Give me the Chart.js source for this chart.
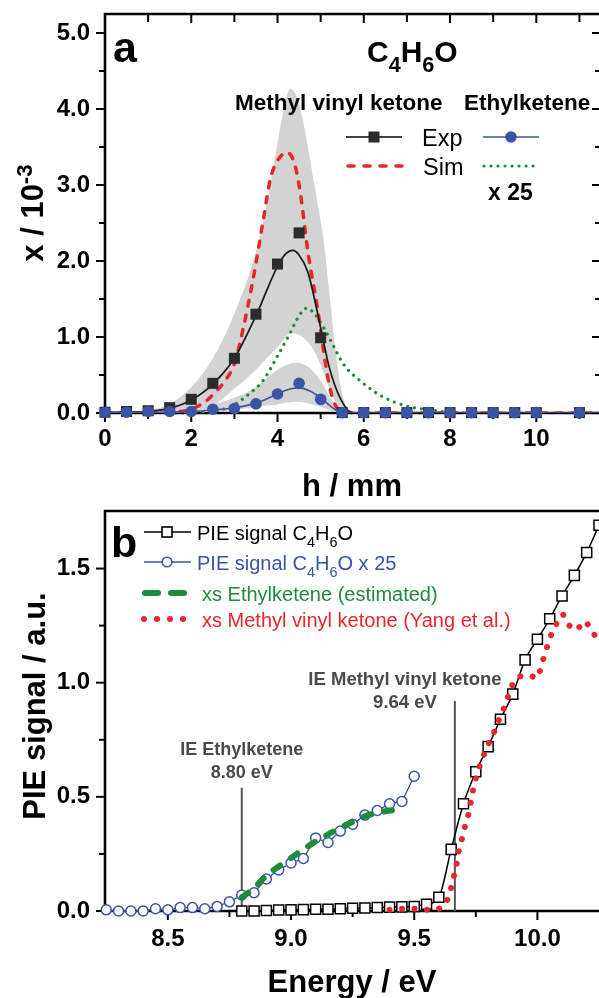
<!DOCTYPE html>
<html><head><meta charset="utf-8">
<script src="https://cdn.jsdelivr.net/npm/chart.js@4.4.1/dist/chart.umd.min.js"></script>
<style>
html,body{margin:0;padding:0;background:#fff;overflow:hidden;width:599px;height:998px;}
#ca{position:absolute;left:0;top:0;}
#cb{position:absolute;left:0;top:497px;}
</style></head><body>
<canvas id="ca" width="602" height="500"></canvas>
<canvas id="cb" width="599" height="501"></canvas>
<script>
const FAM = "'Liberation Sans', Arial, Helvetica, sans-serif";

// ---------- Panel a data (h / mm, x / 10^-3) ----------
const hTicks = [0, 2, 4, 6, 8, 10];
const hMinor = [1, 3, 5, 7, 9, 11];
const xTicksA = [0, 1, 2, 3, 4, 5];
const xMinorA = [0.5, 1.5, 2.5, 3.5, 4.5];

const hExp   = [0, 0.5, 1, 1.5, 2, 2.5, 3, 3.5, 4, 4.5, 5, 5.5, 6, 6.5, 7, 7.5, 8, 8.5, 9, 9.5, 10, 11];
const mvkExp = [0.01, 0.02, 0.03, 0.07, 0.18, 0.39, 0.72, 1.30, 1.96, 2.37, 0.99, 0.005, 0.005, 0.005, 0.005, 0.005, 0.005, 0.005, 0.005, 0.005, 0.005, 0.005];
const ekExp  = [0.01, 0.01, 0.02, 0.02, 0.02, 0.05, 0.06, 0.12, 0.25, 0.39, 0.18, 0.005, 0.005, 0.005, 0.005, 0.005, 0.005, 0.005, 0.005, 0.005, 0.005, 0.005];

const hFitMvk = [0, 0.5, 1, 1.5, 2, 2.5, 3, 3.5, 4, 4.2, 4.35, 4.5, 4.7, 4.85, 5.0, 5.2, 5.45, 5.75, 6, 11.5];
const mvkFit  = [0.005, 0.01, 0.02, 0.06, 0.17, 0.38, 0.72, 1.28, 1.93, 2.10, 2.14, 2.08, 1.86, 1.52, 1.12, 0.60, 0.20, 0.0, 0, 0];
const hFitEk  = [0, 1, 2, 2.5, 3, 3.5, 4, 4.25, 4.5, 4.75, 5.0, 5.25, 5.5, 6, 11.5];
const ekFit   = [0.01, 0.01, 0.02, 0.04, 0.07, 0.13, 0.25, 0.31, 0.33, 0.29, 0.20, 0.08, 0.0, 0, 0];

const hSimMvk = [0, 1, 1.5, 2, 2.37, 2.5, 2.75, 3.0, 3.2, 3.43, 3.67, 3.83, 4.0, 4.22, 4.4, 4.52, 4.71, 4.92, 5.15, 5.29, 5.5, 6, 11.5];
const mvkSim  = [0, 0.0, 0.01, 0.05, 0.17, 0.24, 0.40, 0.65, 1.10, 1.75, 2.54, 3.07, 3.32, 3.43, 3.27, 2.93, 2.10, 1.40, 0.52, 0.17, 0.02, 0, 0];
const hSimEk  = [0, 2, 2.6, 2.97, 3.36, 3.67, 3.99, 4.29, 4.5, 4.68, 4.85, 5.06, 5.3, 5.52, 5.99, 6.45, 7.0, 7.54, 8.0, 9.0, 11.5];
const ekSim25 = [0, 0.0, 0.03, 0.10, 0.26, 0.43, 0.74, 1.05, 1.28, 1.38, 1.31, 1.13, 0.88, 0.65, 0.39, 0.21, 0.09, 0.04, 0.01, 0, 0];

const hBand     = [0, 1, 1.5, 2, 2.5, 3, 3.5, 3.75, 4, 4.15, 4.3, 4.45, 4.6, 4.75, 4.9, 5.05, 5.2, 5.35, 5.5, 5.65, 5.8, 6.5, 11.5];
const mvkUpper  = [0.01, 0.04, 0.12, 0.34, 0.72, 1.31, 2.12, 2.75, 3.55, 4.02, 4.27, 4.15, 3.82, 3.35, 2.85, 2.35, 1.60, 0.80, 0.25, 0.04, 0, 0, 0];
const mvkLower  = [0.0, 0.01, 0.02, 0.05, 0.10, 0.32, 0.57, 0.72, 0.87, 0.97, 1.05, 1.04, 0.99, 0.90, 0.76, 0.56, 0.33, 0.14, 0.04, 0.0, 0, 0, 0];
const ekUpper   = [0.0, 0.01, 0.02, 0.04, 0.11, 0.20, 0.34, 0.46, 0.57, 0.62, 0.65, 0.66, 0.64, 0.59, 0.50, 0.38, 0.22, 0.10, 0.03, 0.0, 0, 0, 0];
const ekLower   = [0.0, 0.0, 0.0, 0.01, 0.02, 0.04, 0.08, 0.10, 0.11, 0.13, 0.14, 0.15, 0.14, 0.12, 0.10, 0.07, 0.04, 0.02, 0.0, 0, 0, 0, 0];

// ---------- Panel b data (Energy / eV, PIE signal) ----------
const eTicks = [8.5, 9.0, 9.5, 10.0];
const eMinor = [8.75, 9.25, 9.75];
const sTicks = [0, 0.5, 1.0, 1.5];
const sMinor = [0.25, 0.75, 1.25];

const eSq   = [8.80, 8.85, 8.90, 8.95, 9.00, 9.05, 9.10, 9.15, 9.20, 9.25, 9.30, 9.35, 9.40, 9.45, 9.50, 9.55, 9.60, 9.65, 9.70, 9.75, 9.80, 9.85, 9.90, 9.95, 10.00, 10.05, 10.10, 10.15, 10.20, 10.25];
const pieSq = [0.0, 0.0, 0.002, 0.004, 0.005, 0.006, 0.008, 0.008, 0.010, 0.012, 0.013, 0.015, 0.017, 0.018, 0.020, 0.030, 0.060, 0.27, 0.47, 0.61, 0.72, 0.84, 0.95, 1.10, 1.19, 1.28, 1.38, 1.47, 1.57, 1.69];

const eCirc = [8.25, 8.30, 8.35, 8.40, 8.45, 8.50, 8.55, 8.60, 8.65, 8.70, 8.75, 8.80, 8.85, 8.90, 8.95, 9.00, 9.05, 9.10, 9.15, 9.20, 9.25, 9.30, 9.35, 9.40, 9.45, 9.50];
const pie25 = [0.005, 0.0, 0.0, 0.0, 0.01, 0.005, 0.015, 0.015, 0.01, 0.02, 0.04, 0.07, 0.08, 0.14, 0.18, 0.21, 0.23, 0.32, 0.30, 0.35, 0.38, 0.42, 0.44, 0.47, 0.48, 0.59];

const eGreen = [8.80, 8.85, 8.90, 8.95, 9.00, 9.05, 9.10, 9.15, 9.20, 9.25, 9.30, 9.35, 9.40, 9.45];
const xsEk   = [0.06, 0.10, 0.155, 0.195, 0.232, 0.27, 0.305, 0.335, 0.365, 0.39, 0.415, 0.43, 0.44, 0.445];

const eRed  = [9.40, 9.44, 9.50, 9.55, 9.59, 9.62, 9.64, 9.654, 9.665, 9.675, 9.682, 9.695, 9.708, 9.722, 9.732, 9.74, 9.753, 9.767, 9.785, 9.805, 9.827, 9.845, 9.865, 9.881, 9.898, 9.915, 9.935, 9.97, 10.0, 10.016, 10.028, 10.046, 10.066, 10.085, 10.104, 10.13, 10.158, 10.194, 10.222, 10.25];
const xsMvk = [0.005, 0.01, 0.01, 0.005, 0.005, 0.02, 0.06, 0.12, 0.17, 0.22, 0.27, 0.32, 0.38, 0.43, 0.49, 0.54, 0.59, 0.64, 0.69, 0.74, 0.79, 0.84, 0.89, 0.94, 0.99, 1.02, 1.03, 1.03, 1.02, 1.07, 1.12, 1.18, 1.24, 1.27, 1.30, 1.25, 1.23, 1.27, 1.23, 1.17];

const ieE   = [8.80, 9.665];
const ieTop = [0.54, 0.92];
const ieName = ['IE Ethylketene', 'IE Methyl vinyl ketone'];
const ieVal  = ['8.80 eV', '9.64 eV'];

// ---------- colours ----------
const BLUE = '#3b54a6', RED = '#e8262d', GREEN = '#1e8c3c', GREY = '#d3d3d3', DARK = '#2b2b2b', IEC = '#4a4a4a';

const pts = (xs, ys) => xs.map((x, i) => ({x: x, y: ys[i]}));

function richText(ctx, x, y, parts, size, weight, color, align) {
  ctx.fillStyle = color; ctx.textBaseline = 'alphabetic'; ctx.textAlign = 'left';
  const f = k => weight + ' ' + (k ? (size * 0.72).toFixed(1) : size) + 'px ' + FAM;
  let w = 0;
  parts.forEach(([t, k]) => { ctx.font = f(k); w += ctx.measureText(t).width; });
  let cx = align === 'center' ? x - w / 2 : x;
  parts.forEach(([t, k]) => {
    ctx.font = f(k);
    const dy = k === 1 ? size * 0.33 : (k === 2 ? -size * 0.36 : 0);
    ctx.fillText(t, cx, y + dy);
    cx += ctx.measureText(t).width;
  });
}

function frameTicks(o) {
  return {
    id: 'frameTicks',
    beforeDatasetsDraw(chart) {
      const {ctx, chartArea: a, scales: {x, y}} = chart;
      ctx.save();
      ctx.strokeStyle = '#000'; ctx.lineWidth = 2.6;
      ctx.beginPath();
      ctx.moveTo(a.left, a.bottom); ctx.lineTo(a.left, a.top); ctx.lineTo(a.right, a.top);
      if (o.right) ctx.lineTo(a.right, a.bottom);
      ctx.moveTo(a.left, a.bottom); ctx.lineTo(a.right, a.bottom);
      ctx.stroke();
      ctx.lineWidth = 2;
      const tk = (x1, y1, x2, y2) => { ctx.beginPath(); ctx.moveTo(x1, y1); ctx.lineTo(x2, y2); ctx.stroke(); };
      o.xMaj.forEach(v => { const p = x.getPixelForValue(v); tk(p, a.bottom, p, a.bottom + 9); if (o.top) tk(p, a.top, p, a.top + 9); });
      o.xMin.forEach(v => { const p = x.getPixelForValue(v); tk(p, a.bottom, p, a.bottom + 6); if (o.top) tk(p, a.top, p, a.top + 8); });
      o.yMaj.forEach(v => { const p = y.getPixelForValue(v); tk(a.left - 9, p, a.left, p); if (o.right) tk(a.right - 9, p, a.right, p); });
      o.yMin.forEach(v => { const p = y.getPixelForValue(v); tk(a.left - 6, p, a.left, p); if (o.right) tk(a.right - 6, p, a.right, p); });
      ctx.restore();
    }
  };
}

function lineDs(xs, ys, color, width, dash, order, extra) {
  return Object.assign({
    type: 'line', data: pts(xs, ys), borderColor: color, borderWidth: width,
    borderDash: dash || [], borderCapStyle: 'round', pointRadius: 0,
    cubicInterpolationMode: 'monotone', fill: false, order: order
  }, extra || {});
}

function tickCfg(arr, fmt, pad) {
  return {
    afterBuildTicks: s => { s.ticks = arr.map(v => ({value: v})); },
    grid: {display: false, drawTicks: false}, border: {display: false},
    ticks: {padding: pad, color: '#000', font: {family: FAM, size: 24, weight: 'bold'},
            autoSkip: false, maxRotation: 0, callback: fmt}
  };
}
const fitX = s => { s.height = 87; s.paddingLeft = 0; s.paddingRight = 0; s.paddingTop = 0; s.paddingBottom = 0; };
const fitY = s => { s.width = 105; s.paddingLeft = 0; s.paddingRight = 0; s.paddingTop = 0; s.paddingBottom = 0; };

// ================= Chart a =================
const textA = {
  id: 'textA',
  afterDraw(chart) {
    const ctx = chart.ctx;
    ctx.save();
    richText(ctx, 113, 62, [['a', 0]], 43, 'bold', '#000');
    richText(ctx, 367, 62, [['C', 0], ['4', 1], ['H', 0], ['6', 1], ['O', 0]], 30, 'bold', '#000');
    richText(ctx, 235, 110, [['Methyl vinyl ketone', 0]], 22.5, 'bold', '#000');
    richText(ctx, 464, 110, [['Ethylketene', 0]], 22.5, 'bold', '#000');
    // legend: Exp
    ctx.strokeStyle = '#000'; ctx.lineWidth = 1.6; ctx.setLineDash([]);
    ctx.beginPath(); ctx.moveTo(346, 137); ctx.lineTo(402, 137); ctx.stroke();
    ctx.fillStyle = DARK; ctx.fillRect(368.5, 131.5, 11, 11);
    ctx.strokeStyle = BLUE; ctx.lineWidth = 1.6;
    ctx.beginPath(); ctx.moveTo(483, 137); ctx.lineTo(539, 137); ctx.stroke();
    ctx.fillStyle = BLUE; ctx.beginPath(); ctx.arc(511, 137, 5.8, 0, Math.PI * 2); ctx.fill();
    // legend: Sim
    ctx.strokeStyle = RED; ctx.lineWidth = 3.5; ctx.lineCap = 'round'; ctx.setLineDash([6, 10]);
    ctx.beginPath(); ctx.moveTo(348, 166); ctx.lineTo(402, 166); ctx.stroke();
    ctx.strokeStyle = GREEN; ctx.lineWidth = 3.2; ctx.setLineDash([0.01, 7]);
    ctx.beginPath(); ctx.moveTo(484, 166); ctx.lineTo(540, 166); ctx.stroke();
    ctx.setLineDash([]);
    richText(ctx, 422, 146, [['Exp', 0]], 23.5, 'normal', '#000');
    richText(ctx, 423, 175, [['Sim', 0]], 23.5, 'normal', '#000');
    richText(ctx, 488, 200, [['x 25', 0]], 23, 'bold', '#000');
    // axis titles
    richText(ctx, 352, 496, [['h / mm', 0]], 31, 'bold', '#000', 'center');
    ctx.translate(43, 213); ctx.rotate(-Math.PI / 2);
    richText(ctx, 0, 0, [['x / 10', 0], ['-3', 2]], 31, 'bold', '#000', 'center');
    ctx.restore();
  }
};

new Chart(document.getElementById('ca'), {
  type: 'line',
  data: {datasets: [
    lineDs(hBand, mvkUpper, 'rgba(0,0,0,0)', 0, null, 100, {fill: '+1', backgroundColor: GREY}),
    lineDs(hBand, mvkLower, 'rgba(0,0,0,0)', 0, null, 99),
    lineDs(hBand, ekUpper, 'rgba(0,0,0,0)', 0, null, 98, {fill: '+1', backgroundColor: GREY}),
    lineDs(hBand, ekLower, 'rgba(0,0,0,0)', 0, null, 97),
    lineDs(hSimEk, ekSim25, GREEN, 3.2, [0.01, 7], 60),
    lineDs(hSimMvk, mvkSim, RED, 3.5, [6, 9], 50),
    lineDs(hFitMvk, mvkFit, '#1a1a1a', 1.7, null, 40),
    {type: 'line', data: pts(hExp, mvkExp), showLine: false, pointStyle: 'rect', pointRadius: 7.8,
     pointBackgroundColor: DARK, pointBorderColor: DARK, pointBorderWidth: 0, order: 30, clip: false},
    lineDs(hFitEk, ekFit, BLUE, 1.6, null, 20),
    {type: 'line', data: pts(hExp, ekExp), showLine: false, pointStyle: 'circle', pointRadius: 5.8,
     pointBackgroundColor: BLUE, pointBorderColor: BLUE, pointBorderWidth: 0, order: 10, clip: false}
  ]},
  options: {
    responsive: false, animation: false, devicePixelRatio: 1, events: [],
    layout: {autoPadding: false, padding: {left: 0, top: 14, right: 1, bottom: 0}},
    plugins: {legend: {display: false}, tooltip: {enabled: false}},
    scales: {
      x: Object.assign({type: 'linear', min: 0, max: 11.5, afterFit: fitX},
                       tickCfg(hTicks, v => String(v), 12)),
      y: Object.assign({type: 'linear', min: 0, max: 5.25, afterFit: fitY},
                       tickCfg(xTicksA, v => v.toFixed(1), 15))
    }
  },
  plugins: [frameTicks({xMaj: hTicks, xMin: hMinor, yMaj: xTicksA, yMin: xMinorA, top: true, right: true}), textA]
});

// ================= Chart b =================
const textB = {
  id: 'textB',
  afterDraw(chart) {
    const ctx = chart.ctx;
    ctx.save();
    richText(ctx, 111, 60, [['b', 0]], 43, 'bold', '#000');
    // legend row 1
    ctx.lineWidth = 1.6; ctx.strokeStyle = '#000';
    ctx.beginPath(); ctx.moveTo(144, 35); ctx.lineTo(191, 35); ctx.stroke();
    ctx.fillStyle = '#fff'; ctx.fillRect(162, 30, 10, 10); ctx.strokeRect(162, 30, 10, 10);
    richText(ctx, 197, 43, [['PIE signal C', 0], ['4', 1], ['H', 0], ['6', 1], ['O', 0]], 20, 'normal', '#000');
    // row 2
    ctx.strokeStyle = BLUE;
    ctx.beginPath(); ctx.moveTo(144, 65); ctx.lineTo(191, 65); ctx.stroke();
    ctx.fillStyle = '#fff'; ctx.beginPath(); ctx.arc(167, 65, 4.8, 0, Math.PI * 2); ctx.fill(); ctx.stroke();
    richText(ctx, 197, 73, [['PIE signal C', 0], ['4', 1], ['H', 0], ['6', 1], ['O x 25', 0]], 20, 'normal', BLUE);
    // row 3
    ctx.strokeStyle = GREEN; ctx.lineWidth = 6; ctx.lineCap = 'round';
    ctx.beginPath(); ctx.moveTo(145, 96); ctx.lineTo(158, 96); ctx.moveTo(171, 96); ctx.lineTo(184, 96); ctx.stroke();
    richText(ctx, 202, 104, [['xs Ethylketene (estimated)', 0]], 20, 'normal', GREEN);
    // row 4
    ctx.fillStyle = RED;
    [144, 157, 170, 183].forEach(xx => { ctx.beginPath(); ctx.arc(xx, 122, 3, 0, Math.PI * 2); ctx.fill(); });
    richText(ctx, 202, 130, [['xs Methyl vinyl ketone (Yang et al.)', 0]], 20, 'normal', RED);
    // IE annotations
    const xs = chart.scales.x;
    richText(ctx, xs.getPixelForValue(ieE[0]), 258, [[ieName[0], 0]], 18, 'bold', IEC, 'center');
    richText(ctx, xs.getPixelForValue(ieE[0]), 281, [[ieVal[0], 0]], 18, 'bold', IEC, 'center');
    richText(ctx, 405, 188, [[ieName[1], 0]], 18.5, 'bold', IEC, 'center');
    richText(ctx, 405, 211, [[ieVal[1], 0]], 18.5, 'bold', IEC, 'center');
    // axis titles
    richText(ctx, 352, 495, [['Energy / eV', 0]], 31, 'bold', '#000', 'center');
    ctx.translate(45, 209); ctx.rotate(-Math.PI / 2);
    richText(ctx, 0, 0, [['PIE signal / a.u.', 0]], 31, 'bold', '#000', 'center');
    ctx.restore();
  }
};

new Chart(document.getElementById('cb'), {
  type: 'line',
  data: {datasets: [
    lineDs([ieE[0], ieE[0]], [0, ieTop[0]], '#555', 2, null, 90, {cubicInterpolationMode: 'default', borderCapStyle: 'butt'}),
    lineDs([ieE[1], ieE[1]], [0, ieTop[1]], '#555', 2, null, 89, {cubicInterpolationMode: 'default', borderCapStyle: 'butt'}),
    Object.assign(lineDs(eCirc, pie25, BLUE, 1.3, null, 40, {cubicInterpolationMode: 'default', tension: 0}),
      {pointRadius: 5, pointStyle: 'circle', pointBackgroundColor: '#fff', pointBorderColor: BLUE, pointBorderWidth: 1.5, clip: false}),
    lineDs(eGreen, xsEk, GREEN, 6, [8, 13], 30),
    Object.assign(lineDs(eSq, pieSq, '#000', 1.5, null, 20),
      {pointRadius: 7.1, pointStyle: 'rect', pointBackgroundColor: '#fff', pointBorderColor: '#000', pointBorderWidth: 1.5, clip: false}),
    lineDs(eRed, xsMvk, RED, 6, [0.01, 12.5], 10, {cubicInterpolationMode: 'default', tension: 0, clip: false})
  ]},
  options: {
    responsive: false, animation: false, devicePixelRatio: 1, events: [],
    layout: {autoPadding: false, padding: {left: 0, top: 14, right: 0, bottom: 0}},
    plugins: {legend: {display: false}, tooltip: {enabled: false}},
    scales: {
      x: Object.assign({type: 'linear', min: 8.245, max: 10.25, afterFit: fitX},
                       tickCfg(eTicks, v => v.toFixed(1), 14)),
      y: Object.assign({type: 'linear', min: 0, max: 1.752, afterFit: fitY},
                       tickCfg(sTicks, v => v.toFixed(1), 15))
    }
  },
  plugins: [frameTicks({xMaj: eTicks, xMin: eMinor, yMaj: sTicks, yMin: sMinor, top: false, right: false}), textB]
});
</script>
</body></html>
